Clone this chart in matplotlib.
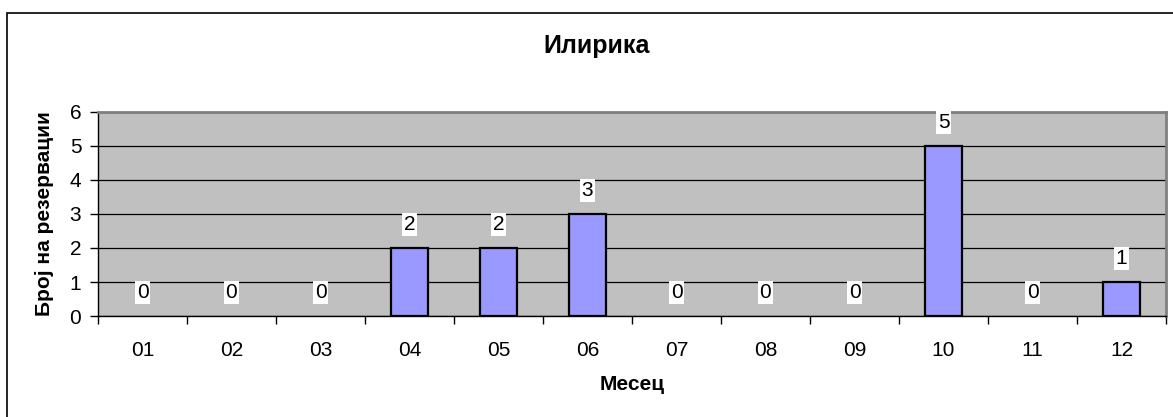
import matplotlib
matplotlib.use("Agg")
import matplotlib.pyplot as plt
from matplotlib.patches import Rectangle

months = ["01", "02", "03", "04", "05", "06", "07", "08", "09", "10", "11", "12"]
bookings = [0, 0, 0, 2, 2, 3, 0, 0, 0, 5, 0, 1]
y_ticks = [0, 1, 2, 3, 4, 5, 6]

plt.rcParams['font.family'] = ['Liberation Sans', 'DejaVu Sans']
FS = 15

fig = plt.figure(figsize=(11.73, 4.17), dpi=100)
ax = fig.add_axes([98 / 1173, 1 - 316 / 417, 1068 / 1173, 204 / 417])

# outer chart frame (runs off the right and bottom edge)
fig.patches.append(Rectangle((7 / 1173, -0.5), 2, 0.5 + 1 - 13 / 417,
                             transform=fig.transFigure, fill=False,
                             edgecolor='black', linewidth=1.2))

ax.set_facecolor('#C0C0C0')
x = list(range(len(months)))
edge_w = [1.6 if v > 0 else 0 for v in bookings]
ax.bar(x, bookings, width=0.41, color='#9999FF', edgecolor='black',
       linewidth=edge_w, zorder=3)

for xi, v in zip(x, bookings):
    ax.annotate(str(v), (xi, v), xytext=(0, 17), textcoords='offset points',
                ha='center', va='center', fontsize=FS, zorder=4,
                bbox=dict(facecolor='white', edgecolor='none', pad=1.2))

ax.set_xlim(-0.5, len(months) - 0.5)
ax.set_ylim(0, 6)
ax.set_yticks(y_ticks)
ax.yaxis.grid(True, color='black', linewidth=0.9)
ax.set_axisbelow(True)

ax.set_xticks([i - 0.5 for i in range(len(months) + 1)])
ax.set_xticklabels([])
ax.set_xticks(x, minor=True)
ax.set_xticklabels(months, minor=True, fontsize=FS)
ax.tick_params(axis='x', which='major', length=6, width=1, color='black')
ax.tick_params(axis='x', which='minor', length=0, pad=18)
ax.tick_params(axis='y', length=6, width=1, labelsize=FS, pad=6)

for s in ['top', 'right']:
    ax.spines[s].set_color('#808080')
    ax.spines[s].set_linewidth(2)
for s in ['left', 'bottom']:
    ax.spines[s].set_color('black')
    ax.spines[s].set_linewidth(1)

ax.set_xlabel("Месец", fontsize=FS, fontweight='bold')
ax.xaxis.set_label_coords(0.5, (316 - 384) / 204)
ax.xaxis.label.set_va('center')
ax.set_ylabel("Број на резервации", fontsize=FS, fontweight='bold')
ax.yaxis.set_label_coords((45 - 98) / 1068, 0.5)
ax.yaxis.label.set_va('center')

fig.text(597 / 1173, 1 - 46 / 417, "Илирика", ha='center', va='center',
         fontsize=18, fontweight='bold')

fig.savefig("out.png", dpi=100)
